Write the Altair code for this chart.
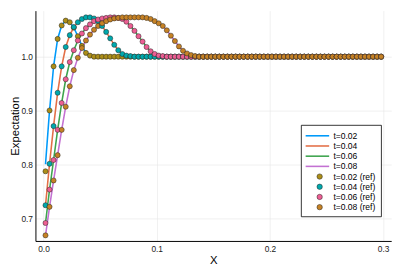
import altair as alt
import pandas as pd

# ---------------- data ----------------
N_CELLS = 84
X_MAX = 0.3
x_grid = [(i + 0.5) * X_MAX / N_CELLS for i in range(N_CELLS)]

def pad(vals):
    return vals + [1.0] * (N_CELLS - len(vals))

ref_002 = pad([0.787, 0.900, 0.982, 1.033, 1.058, 1.067, 1.064, 1.054, 1.038, 1.020,
               1.007, 1.002])
ref_004 = pad([0.724, 0.801, 0.871, 0.933, 0.982, 1.018, 1.040, 1.055, 1.064, 1.070,
               1.073, 1.073, 1.071, 1.066, 1.057, 1.046, 1.034, 1.022, 1.012, 1.005,
               1.002, 1.001])
ref_006 = pad([0.691, 0.753, 0.808, 0.864, 0.914, 0.958, 0.990, 1.012, 1.030, 1.043,
               1.053, 1.060, 1.066, 1.069, 1.071, 1.072, 1.073, 1.073, 1.072, 1.070,
               1.065, 1.057, 1.048, 1.038, 1.028, 1.018, 1.010, 1.005, 1.002, 1.001])
ref_008 = pad([0.668, 0.721, 0.770, 0.817, 0.864, 0.907, 0.945, 0.975, 0.998, 1.016,
               1.030, 1.041, 1.050, 1.057, 1.062, 1.066, 1.069, 1.071, 1.072, 1.073,
               1.073, 1.073, 1.073, 1.073, 1.073, 1.072, 1.070, 1.066, 1.062, 1.057,
               1.049, 1.039, 1.029, 1.019, 1.011, 1.006, 1.003, 1.001])

sim_002 = [0.800] + ref_002[1:]
sim_004 = list(ref_004)
sim_006 = list(ref_006)
sim_008 = list(ref_008)

line_labels = ["t=0.02", "t=0.04", "t=0.06", "t=0.08"]
ref_labels = ["t=0.02 (ref)", "t=0.04 (ref)", "t=0.06 (ref)", "t=0.08 (ref)"]
line_colors = ["#009AFA", "#E36F47", "#3EA44E", "#C371D2"]
ref_colors = ["#AC8E18", "#00A9AD", "#ED5E93", "#C68225"]

x_ticks = [0.0, 0.1, 0.2, 0.3]
y_ticks = [0.7, 0.8, 0.9, 1.0]

rows_line = []
for lab, arr in zip(line_labels, [sim_002, sim_004, sim_006, sim_008]):
    for xv, yv in zip(x_grid, arr):
        rows_line.append({"x": xv, "y": yv, "series": lab})
rows_ref = []
for lab, arr in zip(ref_labels, [ref_002, ref_004, ref_006, ref_008]):
    for k, (xv, yv) in enumerate(zip(x_grid, arr)):
        rows_ref.append({"x": xv, "y": yv, "series": lab, "k": k})
df_line = pd.DataFrame(rows_line)
df_ref = pd.DataFrame(rows_ref)

# ---------------- style ----------------
FONT = "Liberation Sans"
W, H = 363, 235
xscale = alt.Scale(domain=[-0.0071, 0.3071], nice=False, zero=False)
yscale = alt.Scale(domain=[0.6576, 1.0855], nice=False, zero=False)

xaxis = alt.Axis(values=x_ticks, format=".1f", title="X", ticks=False,
                 labelPadding=4, titlePadding=2)
yaxis = alt.Axis(values=y_ticks, format=".1f", title="Expectation", ticks=False,
                 labelPadding=3, titlePadding=0)

lines = alt.Chart(df_line).mark_line(strokeWidth=1.6, clip=True).encode(
    x=alt.X("x:Q", scale=xscale, axis=xaxis),
    y=alt.Y("y:Q", scale=yscale, axis=yaxis),
    color=alt.Color("series:N", scale=alt.Scale(domain=line_labels, range=line_colors),
                    legend=None),
    detail="series:N",
)

points = alt.Chart(df_ref).mark_point(filled=True, shape="circle", size=27,
                                      stroke="#222222", strokeWidth=0.5,
                                      opacity=1, clip=True).encode(
    x=alt.X("x:Q", scale=xscale),
    y=alt.Y("y:Q", scale=yscale),
    fill=alt.Fill("series:N", scale=alt.Scale(domain=ref_labels, range=ref_colors),
                  legend=None),
    order="k:Q",
)

# ---------------- manual legend ----------------
one = alt.Data(values=[{"a": 1}])
BOX = (271.3, 353.0, 117.0, 210.3)
ROW0, ROWSTEP = 127.7, 10.4
SYM_X0, SYM_X1, DOT_X, LAB_X = 275.7, 299.7, 290.0, 304.0

legend_layers = [
    alt.Chart(one).mark_rect(fill="white", stroke="#000000", strokeWidth=0.8).encode(
        x=alt.value(BOX[0]), x2=alt.value(BOX[1]), y=alt.value(BOX[2]), y2=alt.value(BOX[3]))
]
all_labels = line_labels + ref_labels
for r, lab in enumerate(all_labels):
    yy = ROW0 + r * ROWSTEP
    if r < 4:
        legend_layers.append(
            alt.Chart(one).mark_rule(color=line_colors[r], strokeWidth=1.6).encode(
                x=alt.value(SYM_X0), x2=alt.value(SYM_X1), y=alt.value(yy)))
    else:
        legend_layers.append(
            alt.Chart(one).mark_point(filled=True, shape="circle", size=30,
                                      fill=ref_colors[r - 4], stroke="#222222",
                                      strokeWidth=0.5, opacity=1).encode(
                x=alt.value(DOT_X), y=alt.value(yy)))
    legend_layers.append(
        alt.Chart(alt.Data(values=[{"label": lab}])).mark_text(
            align="left", baseline="middle", font=FONT, fontSize=8.7, color="#000000"
        ).encode(x=alt.value(LAB_X), y=alt.value(yy), text="label:N"))

chart = alt.layer(lines, points, *legend_layers).properties(
    width=W, height=H,
    autosize=alt.AutoSizeParams(type="none"),
    padding={"left": 28, "top": 0, "right": 10, "bottom": 30},
).configure_view(stroke=None).configure_axis(
    labelFont=FONT, titleFont=FONT, labelFontSize=8.5, titleFontSize=11.5,
    labelColor="#222222", titleColor="#000000", titleFontWeight="normal",
    domainColor="#000000", domainWidth=1,
    gridColor="#E6E6E6", gridWidth=0.6,
)

chart.save("out.html", embed_options={"renderer": "svg", "actions": False})
